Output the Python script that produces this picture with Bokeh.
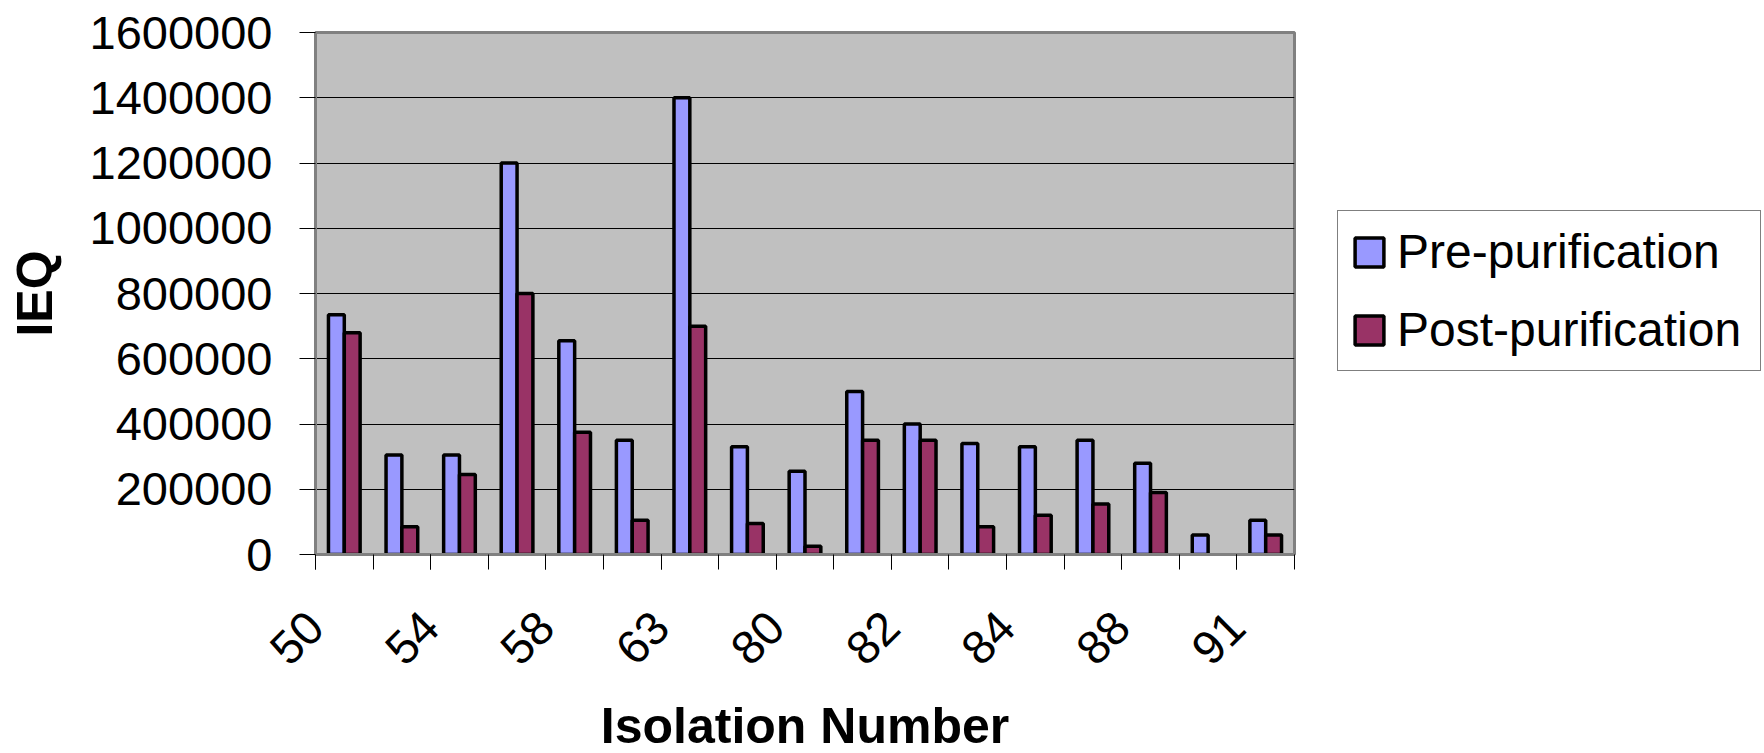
from math import pi
from bokeh.plotting import figure
from bokeh.models import (ColumnDataSource, Range1d, FixedTicker, BasicTickFormatter,
                          Legend, LegendItem)
from bokeh.transform import dodge
from bokeh.embed import file_html
from bokeh.resources import INLINE

# ---- data ----
tick_labels = ["50", "54", "58", "63", "80", "82", "84", "88", "91"]
pre_purification = [735000, 305000, 305000, 1200000, 655000, 350000, 1400000, 330000,
                    255000, 500000, 400000, 340000, 330000, 350000, 280000, 60000, 105000]
post_purification = [680000, 85000, 245000, 800000, 375000, 105000, 700000, 95000,
                     25000, 350000, 350000, 85000, 120000, 155000, 190000, float("nan"), 60000]
series_names = ["Pre-purification", "Post-purification"]
y_ticks = [0, 200000, 400000, 600000, 800000, 1000000, 1200000, 1400000, 1600000]

n = len(pre_purification)
source = ColumnDataSource(dict(
    x=[i + 0.5 for i in range(n)],
    pre=pre_purification,
    post=post_purification,
))

FONT = "Liberation Sans"
PRE_COLOR = "#9999FF"
POST_COLOR = "#993366"

FRAME_W, FRAME_H = 979, 522
p = figure(frame_width=FRAME_W, frame_height=FRAME_H,
           output_backend="svg", toolbar_location=None,
           x_range=Range1d(0, n), y_range=Range1d(y_ticks[0], y_ticks[-1]),
           min_border_left=315, min_border_right=469,
           min_border_top=32, min_border_bottom=198)
p.background_fill_color = "#C0C0C0"
p.border_fill_color = "white"
p.outline_line_color = "#808080"
p.outline_line_width = 3

bw = 0.275
r_pre = p.vbar(x=dodge("x", -bw / 2, range=p.x_range), top="pre", width=bw, bottom=0,
               source=source, fill_color=PRE_COLOR, line_color="black", line_width=3.5)
r_post = p.vbar(x=dodge("x", bw / 2, range=p.x_range), top="post", width=bw, bottom=0,
                source=source, fill_color=POST_COLOR, line_color="black", line_width=3.5)

# y axis
p.yaxis.ticker = FixedTicker(ticks=y_ticks)
p.yaxis.formatter = BasicTickFormatter(use_scientific=False)
p.yaxis.major_label_text_font = FONT
p.yaxis.major_label_text_font_size = "47px"
p.yaxis.major_label_text_color = "black"
p.yaxis.major_tick_out = 16
p.yaxis.major_tick_in = 0
p.yaxis.major_tick_line_color = "black"
p.yaxis.minor_tick_line_color = None
p.yaxis.major_label_standoff = 27
p.yaxis.axis_line_color = "#808080"
p.yaxis.axis_line_width = 3
p.yaxis.axis_label = "IEQ"
p.yaxis.axis_label_text_font = FONT
p.yaxis.axis_label_text_font_style = "bold"
p.yaxis.axis_label_text_font_size = "50px"
p.yaxis.axis_label_text_color = "black"
p.yaxis.axis_label_standoff = 24

# x axis: labels at every other category boundary, tick marks at all boundaries
label_pos = [2 * k for k in range(len(tick_labels))]
p.xaxis.ticker = FixedTicker(ticks=label_pos, minor_ticks=list(range(n + 1)))
p.xaxis.major_label_overrides = {pos: lab for pos, lab in zip(label_pos, tick_labels)}
p.xaxis.major_label_orientation = pi / 4
p.xaxis.major_label_text_font = FONT
p.xaxis.major_label_text_font_size = "47px"
p.xaxis.major_label_text_color = "black"
p.xaxis.major_tick_out = 15
p.xaxis.major_tick_in = 0
p.xaxis.minor_tick_out = 15
p.xaxis.minor_tick_in = 0
p.xaxis.major_tick_line_color = "black"
p.xaxis.minor_tick_line_color = "black"
p.xaxis.major_label_standoff = 50
p.xaxis.axis_line_color = "#808080"
p.xaxis.axis_line_width = 3
p.xaxis.axis_label = "Isolation Number"
p.xaxis.axis_label_text_font = FONT
p.xaxis.axis_label_text_font_style = "bold"
p.xaxis.axis_label_text_font_size = "50px"
p.xaxis.axis_label_text_color = "black"
p.xaxis.axis_label_text_line_height = 0.9
p.xaxis.axis_label_standoff = 16

p.xgrid.grid_line_color = None
p.ygrid.ticker = FixedTicker(ticks=y_ticks)
p.ygrid.grid_line_color = "black"
p.ygrid.grid_line_width = 1

legend = Legend(items=[LegendItem(label=series_names[0], renderers=[r_pre]),
                       LegendItem(label=series_names[1], renderers=[r_post])],
                location=(43, 183))
legend.label_text_font = FONT
legend.label_text_font_size = "48px"
legend.label_text_color = "black"
legend.glyph_width = 36
legend.glyph_height = 36
legend.label_standoff = 10
legend.label_width = 350
legend.padding = 13
legend.spacing = 23
legend.margin = 0
legend.border_line_color = "black"
legend.border_line_width = 1
legend.background_fill_color = "white"
legend.background_fill_alpha = 1
p.add_layout(legend, "right")

open("out.html", "w").write(file_html(p, INLINE))
